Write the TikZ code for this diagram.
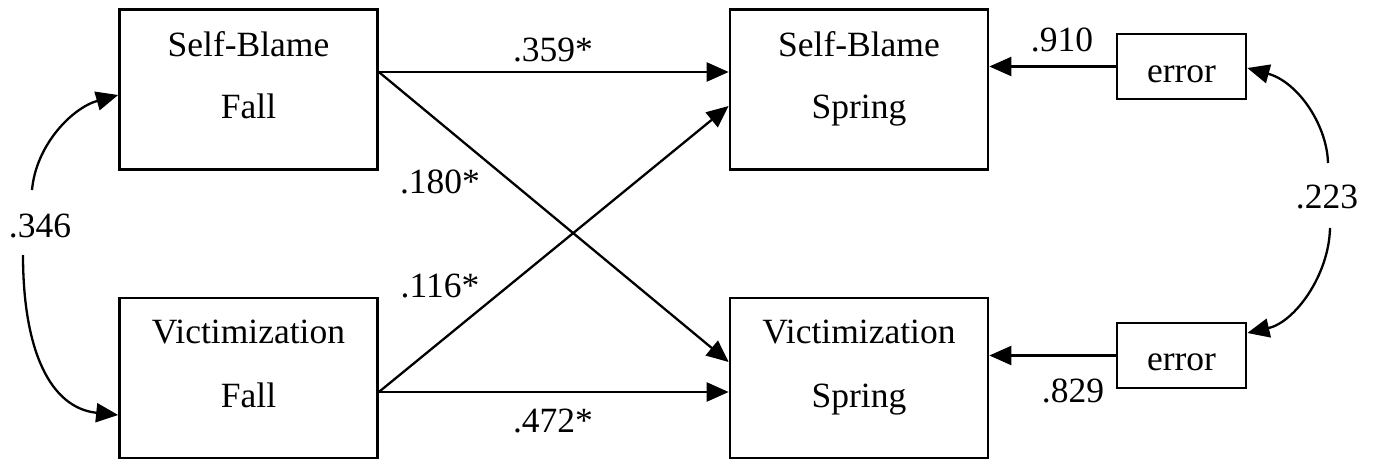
\documentclass[tikz,border=0pt]{standalone}
\usepackage{fontspec}
\setmainfont{Liberation Serif}
\usetikzlibrary{arrows.meta}
\begin{document}
\begin{tikzpicture}[x=1pt,y=-1pt,
  box/.style={draw,line width=2.7pt,inner sep=0pt,minimum width=#1},
  bigbox/.style={box=258pt,minimum height=160pt},
  errbox/.style={box=129pt,minimum height=65pt},
  txt/.style={anchor=base,inner sep=0pt,font=\fontsize{35.5}{40}\selectfont},
  path/.style={line width=2.3pt,-{Triangle[length=22pt,width=19pt]}},
  cov/.style={line width=2.3pt,-{Triangle[length=22pt,width=19pt]}}]
\useasboundingbox (0,0) rectangle (1373,460);
% boxes
\node[bigbox] (sbf) at (248.5,89.5) {};
\node[bigbox] (vf) at (248.5,378) {};
\node[bigbox] (sbs) at (859,89.5) {};
\node[bigbox] (vs) at (859,378) {};
\node[errbox] (e1) at (1181.5,66.5) {};
\node[errbox] (e2) at (1181.5,355.5) {};
% box texts
\node[txt] (sbf1) at (248.5,57) {Self-Blame};
\node[txt] (sbf2) at (248.5,118) {Fall};
\node[txt] (vf1) at (248.5,343) {Victimization};
\node[txt] (vf2) at (248.5,407) {Fall};
\node[txt] (sbs1) at (859,57) {Self-Blame};
\node[txt] (sbs2) at (859,118) {Spring};
\node[txt] (vs1) at (859,343) {Victimization};
\node[txt] (vs2) at (859,407) {Spring};
\node[txt] (e1t) at (1181.5,82) {error};
\node[txt] (e2t) at (1181.5,370) {error};
% path labels
\node[txt] (l359) at (553,62) {.359*};
\node[txt] (l180) at (440,193) {.180*};
\node[txt] (l116) at (440,297) {.116*};
\node[txt] (l472) at (553,432) {.472*};
\node[txt] (l910) at (1062,52) {.910};
\node[txt] (l829) at (1073,402) {.829};
\node[txt] (l223) at (1327,208) {.223};
\node[txt] (l346) at (40,237) {.346};
% paths
\draw[path] ([yshift=17.5pt]sbf.east) -- ([yshift=17.5pt]sbs.west);
\draw[path] ([yshift=17.5pt]sbf.east) -- ([yshift=16pt]vs.west);
\draw[path] ([yshift=-14pt]vf.east) -- ([yshift=-16.5pt]sbs.west);
\draw[path] ([yshift=-14pt]vf.east) -- ([yshift=-14pt]vs.west);
\draw[path] (e1.west) -- (e1.west -| sbs.east);
\draw[path] (e2.west) -- (e2.west -| vs.east);
% covariances
\coordinate (c1) at (32,190);
\coordinate (c2) at (23,255);
\coordinate (c3) at (1328,163);
\coordinate (c4) at (1330,228);
\draw[cov] (c1) .. controls (36,145) and (72,108) .. ([yshift=-5.5pt]sbf.west);
\draw[cov] (c2) .. controls (23,350) and (50,408) .. ([yshift=-37pt]vf.west);
\draw[cov] (c3) .. controls (1327,125) and (1298,82) .. ([yshift=-1.5pt]e1.east);
\draw[cov] (c4) .. controls (1329,275) and (1295,322) .. ([yshift=22.5pt]e2.east);
\end{tikzpicture}
\end{document}
